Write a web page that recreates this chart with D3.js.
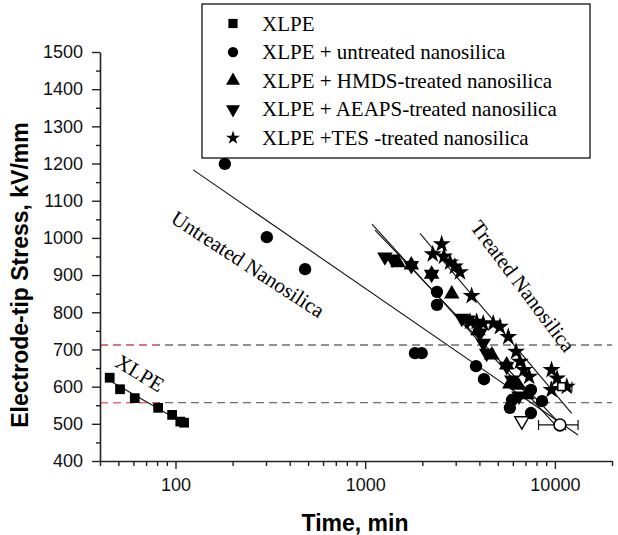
<!DOCTYPE html>
<html>
<head>
<meta charset="utf-8">
<script src="https://cdn.jsdelivr.net/npm/d3@7"></script>
<style>
  body { margin: 0; background: #fff; }
</style>
</head>
<body>
<div id="chart"></div>
<script>
// series values (time in min, stress in kV/mm)
const xlpeTime = [45, 51, 61, 81, 96, 106, 111];
const xlpeStress = [624, 593, 569, 543, 524, 506, 503];

const untreatedTime = [182, 303, 482, 1830, 1985, 2390, 2390, 3840, 4230, 5940, 5790, 7480, 8550, 7480];
const untreatedStress = [1199, 1002, 916, 690, 690, 855, 820, 655, 620, 564, 543, 591, 561, 529];

const hmdsTime = [1490, 1750, 2240, 2860, 3930, 4650, 5570, 5790, 6410, 7120];
const hmdsStress = [933, 927, 902, 849, 750, 685, 658, 607, 604, 578];

const aeapsTime = [1270, 1390, 1750, 2240, 3230, 3480, 4030, 4190, 4370, 5570, 5930, 6470];
const aeapsStress = [949, 943, 926, 902, 784, 779, 744, 717, 690, 655, 618, 575];

const tesTime = [2530, 2270, 2600, 2800, 2970, 3160, 3640, 3570, 3870, 4190, 4730, 5130, 5680, 6240, 6540, 6870, 7320, 9600, 10270, 11560, 9600];
const tesStress = [983, 956, 950, 934, 923, 908, 844, 775, 775, 770, 770, 761, 734, 694, 667, 645, 627, 645, 622, 600, 591];

// open (mean) markers with horizontal error bars: [time, stress, low, high]
const meanUntreated = [10630, 497, 8200, 13250];
const meanTes = [10850, 600, 9530, 12300];
const openAeaps = [6700, 508];

// fitted lines: [t0, s0, t1, s1]
const fitXlpe = [42.5, 623, 110, 502];
const fitUntreated = [124, 1183, 13240, 470];
const fitHmds = [1086, 1037, 10380, 489];
const fitAeaps = [1127, 1021, 11450, 483];
const fitTes = [1945, 1012, 12265, 528];

// reference levels
const levels = [712, 557];

const legendLabels = [
  "XLPE",
  "XLPE + untreated nanosilica",
  "XLPE + HMDS-treated nanosilica",
  "XLPE + AEAPS-treated nanosilica",
  "XLPE +TES -treated nanosilica"
];

const yTicks = d3.range(400, 1501, 100);
const yMinor = d3.range(450, 1500, 100);
const xTicks = [100, 1000, 10000];

var margin = {top: 52, right: 6, bottom: 74, left: 100},
    width = 618 - margin.left - margin.right,
    height = 535 - margin.top - margin.bottom;

const svg = d3.select("#chart")
  .append("svg")
    .attr("width", 618)
    .attr("height", 535)
  .append("g")
    .attr("transform", `translate(${margin.left},${margin.top})`);

const x = d3.scaleLog()
  .domain([40, 20000])
  .range([0, width]);

const y = d3.scaleLinear()
  .domain([400, 1500])
  .range([height, 0]);

const sans = "'Liberation Sans', Arial, sans-serif";
const serif = "'Liberation Serif', 'Times New Roman', serif";

//Reference dashed lines
levels.forEach(v => {
  svg.append("line")
    .attr("x1", 0).attr("x2", width)
    .attr("y1", y(v)).attr("y2", y(v))
    .attr("stroke", "#6d6d6d")
    .attr("stroke-width", 1.4)
    .attr("stroke-dasharray", "8,5");
  svg.append("line")
    .attr("x1", 0).attr("x2", x(80))
    .attr("y1", y(v)).attr("y2", y(v))
    .attr("stroke", "#f26d6d")
    .attr("stroke-width", 1.4)
    .attr("stroke-dasharray", "8,5");
});

//X axis (major + minor)
const minorX = x.ticks().filter(t => !xTicks.includes(t));
svg.append("g")
  .attr("transform", `translate(0,${height})`)
  .call(d3.axisBottom(x).tickValues(minorX).tickSize(5).tickFormat(""))
  .call(g => g.select(".domain").remove())
  .selectAll("line").attr("stroke", "#222").attr("stroke-width", 1.4);

svg.append("g")
  .attr("transform", `translate(0,${height})`)
  .call(d3.axisBottom(x).tickValues(xTicks).tickSize(8).tickSizeOuter(0).tickPadding(9).tickFormat(d3.format("d")))
  .call(g => g.select(".domain").attr("stroke", "#222").attr("stroke-width", 1.6))
  .call(g => g.selectAll("line").attr("stroke", "#222").attr("stroke-width", 1.4))
  .selectAll("text")
    .style("font-size", "18px")
    .style("font-family", sans)
    .attr("fill", "#111");

//Y axis (major + minor)
svg.append("g")
  .call(d3.axisLeft(y).tickValues(yMinor).tickSize(4).tickFormat(""))
  .call(g => g.select(".domain").remove())
  .selectAll("line").attr("stroke", "#222").attr("stroke-width", 1.4);

svg.append("g")
  .call(d3.axisLeft(y).tickValues(yTicks).tickSize(8).tickSizeOuter(0).tickPadding(9).tickFormat(d3.format("d")))
  .call(g => g.select(".domain").attr("stroke", "#222").attr("stroke-width", 1.6))
  .call(g => g.selectAll("line").attr("stroke", "#222").attr("stroke-width", 1.4))
  .selectAll("text")
    .style("font-size", "18px")
    .style("font-family", sans)
    .attr("fill", "#111");

//Axis titles
svg.append("text")
  .attr("transform", "rotate(-90)")
  .attr("x", -(275 - margin.top))
  .attr("y", 28 - margin.left)
  .style("text-anchor", "middle")
  .style("font-size", "23px")
  .style("font-weight", "bold")
  .style("font-family", sans)
  .text("Electrode-tip Stress, kV/mm");

svg.append("text")
  .attr("x", 355 - margin.left)
  .attr("y", 531 - margin.top)
  .style("text-anchor", "middle")
  .style("font-size", "23px")
  .style("font-weight", "bold")
  .style("font-family", sans)
  .text("Time, min");

//Fit lines
[fitXlpe, fitUntreated, fitHmds, fitAeaps, fitTes].forEach(f => {
  svg.append("line")
    .attr("x1", x(f[0])).attr("y1", y(f[1]))
    .attr("x2", x(f[2])).attr("y2", y(f[3]))
    .attr("stroke", "#111")
    .attr("stroke-width", 1.1);
});

//Markers
const shapes = [
  {sym: d3.symbolSquare, size: 95, rot: 0},
  {sym: d3.symbolCircle, size: 120, rot: 0},
  {sym: d3.symbolTriangle, size: 105, rot: 0},
  {sym: d3.symbolTriangle, size: 105, rot: 180},
  {sym: d3.symbolStar, size: 100, rot: 0}
];

const series = [
  {t: xlpeTime, s: xlpeStress},
  {t: untreatedTime, s: untreatedStress},
  {t: hmdsTime, s: hmdsStress},
  {t: aeapsTime, s: aeapsStress},
  {t: tesTime, s: tesStress}
];

series.forEach((ser, i) => {
  const sh = shapes[i];
  svg.selectAll(null)
    .data(ser.t.map((t, j) => [t, ser.s[j]]))
    .enter()
    .append("path")
      .attr("d", d3.symbol().type(sh.sym).size(sh.size))
      .attr("transform", d => `translate(${x(d[0])},${y(d[1])}) rotate(${sh.rot})`)
      .attr("fill", "#000");
});

//Mean points with error bars
[[meanUntreated, 1], [meanTes, 0]].forEach(([m, k]) => {
  const cy = y(m[1]);
  svg.append("line")
    .attr("x1", x(m[2])).attr("x2", x(m[3]))
    .attr("y1", cy).attr("y2", cy)
    .attr("stroke", "#111").attr("stroke-width", 1.2);
  [m[2], m[3]].forEach(e => {
    svg.append("line")
      .attr("x1", x(e)).attr("x2", x(e))
      .attr("y1", cy - 5).attr("y2", cy + 5)
      .attr("stroke", "#111").attr("stroke-width", 1.2);
  });
  svg.append("path")
    .attr("d", d3.symbol().type(shapes[k].sym).size(k === 1 ? 110 : 60))
    .attr("transform", `translate(${x(m[0])},${cy})`)
    .attr("fill", "#fff")
    .attr("stroke", "#000")
    .attr("stroke-width", 1.6);
});

svg.append("path")
  .attr("d", d3.symbol().type(d3.symbolTriangle).size(90))
  .attr("transform", `translate(${x(openAeaps[0])},${y(openAeaps[1])}) rotate(180)`)
  .attr("fill", "#fff")
  .attr("stroke", "#000")
  .attr("stroke-width", 1.4);

//Annotations
const notes = [
  {text: "XLPE", cx: 140, cy: 373, angle: 31},
  {text: "Untreated Nanosilica", cx: 248, cy: 264, angle: 33},
  {text: "Treated Nanosilica", cx: 523, cy: 286, angle: 53}
];

notes.forEach(n => {
  svg.append("text")
    .attr("transform", `translate(${n.cx - margin.left},${n.cy - margin.top}) rotate(${n.angle})`)
    .attr("dy", "0.35em")
    .style("text-anchor", "middle")
    .style("font-size", "21px")
    .style("font-family", serif)
    .text(n.text);
});

//Legend
const legend = svg.append("g")
  .attr("transform", `translate(${202 - margin.left},${4 - margin.top})`);

legend.append("rect")
  .attr("width", 388)
  .attr("height", 154)
  .attr("fill", "#fff")
  .attr("stroke", "#111")
  .attr("stroke-width", 1.3);

legendLabels.forEach((lab, i) => {
  const base = 26.5 + i * 28.6;
  legend.append("path")
    .attr("d", d3.symbol().type(shapes[i].sym).size(i === 4 ? 60 : 85))
    .attr("transform", `translate(31,${base - 7}) rotate(${shapes[i].rot})`)
    .attr("fill", "#000");
  legend.append("text")
    .attr("x", 60)
    .attr("y", base)
    .style("font-size", "21px")
    .style("font-family", serif)
    .text(lab);
});
</script>
</body>
</html>
